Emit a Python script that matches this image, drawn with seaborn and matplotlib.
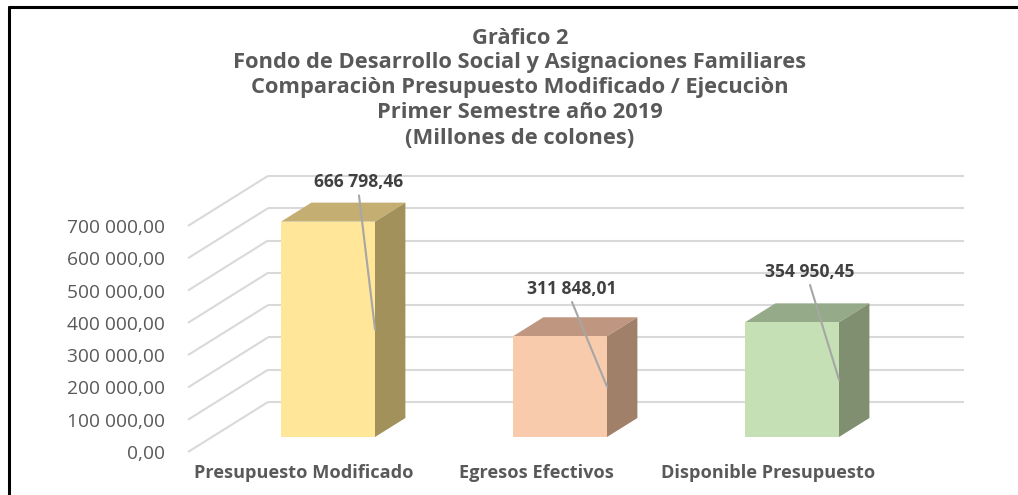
import numpy as np
import pandas as pd
import matplotlib
matplotlib.use("Agg")
import matplotlib.pyplot as plt
import seaborn as sns
from matplotlib.patches import Polygon
from matplotlib.lines import Line2D

# ---------------- data ----------------
categories = ["Presupuesto Modificado", "Egresos Efectivos", "Disponible Presupuesto"]
values = [666798.46, 311848.01, 354950.45]
value_labels = ["666 798,46", "311 848,01", "354 950,45"]
front_colors = ["#FFE699", "#F8CBAD", "#C5E0B4"]
top_colors = ["#C4AE72", "#BF9780", "#94AA88"]
side_colors = ["#A3915C", "#A1806A", "#7F8F70"]
y_ticks = [0, 100000, 200000, 300000, 400000, 500000, 600000, 700000]
y_tick_labels = ["0,00", "100 000,00", "200 000,00", "300 000,00",
                 "400 000,00", "500 000,00", "600 000,00", "700 000,00"]
title_lines = ["Gràfico 2",
               "Fondo de Desarrollo Social y Asignaciones Familiares",
               "Comparaciòn Presupuesto Modificado / Ejecuciòn",
               "Primer Semestre año 2019",
               "(Millones de colones)"]
# data-label placement (layout): horizontal shift in px from bar centre, height in value units
label_dx_px = [31, 12, 18]
label_y = [788000, 458000, 511000]

# ---------------- layout ----------------
W, H, DPI = 1018, 495, 100
sns.set_theme(style="white")
FONT = ["Open Sans", "DejaVu Sans"]
plt.rcParams["font.family"] = FONT

TXT = "#595959"
fig = plt.figure(figsize=(W / DPI, H / DPI), dpi=DPI)
fig.patch.set_facecolor("white")
renderer = fig.canvas.get_renderer()


def fit_size(text, width_px, weight="normal"):
    t = fig.text(0, 0, text, fontsize=10, fontweight=weight)
    w = t.get_window_extent(renderer).width
    t.remove()
    return 10 * width_px / w


title_fs = fit_size(title_lines[1], 575, "bold")
ytick_fs = fit_size(y_tick_labels[-1], 98)
xtick_fs = fit_size(categories[0], 219, "bold")
dlab_fs = fit_size(value_labels[0], 90, "bold")

L, R, T, B = 176, 1000, 150, 452       # axes box in pixels (front-wall plane)
cat0_px, step_px, px_per_val = 304, 232, 32.3 / 1e5
ax = fig.add_axes([L / W, 1 - B / H, (R - L) / W, (B - T) / H])
ax.patch.set_alpha(0)

df = pd.DataFrame({"cat": categories, "val": values})
sns.barplot(data=df, x="cat", y="val", hue="cat", palette=front_colors,
            width=94 / 232, saturation=1, legend=False, ax=ax, zorder=3)

ax.set_xlim((L - cat0_px) / step_px, (R - cat0_px) / step_px)
ax.set_ylim(0, (B - T) / px_per_val)
for s in ax.spines.values():
    s.set_visible(False)
ax.set_xlabel("")
ax.set_ylabel("")
ax.grid(False)

# conversion of oblique depth (pixels) into data units
p0 = ax.transData.transform((0, 0))
p1 = ax.transData.transform((1, 1e5))
sx = p1[0] - p0[0]
sy = (p1[1] - p0[1]) / 1e5


def depth(d):
    return 1.6 * d / sx, d / sy


# back wall + side wall grid
gx, gy = depth(50)
for v in y_ticks:
    ax.plot([-0.5 + gx, 2.5 + gx], [v + gy, v + gy], color="#D9D9D9", lw=1.5,
            zorder=1, clip_on=False, solid_capstyle="butt")
    ax.plot([-0.5, -0.5 + gx], [v, v + gy], color="#D9D9D9", lw=1.5,
            zorder=1, clip_on=False, solid_capstyle="butt")

# bars: move front faces to their depth, add top and side faces
fx, fy = depth(15)
bx, by = depth(19)
bars = sorted([p for p in ax.patches], key=lambda p: p.get_x())
for i, p in enumerate(bars):
    p.set_x(p.get_x() + fx)
    p.set_y(p.get_y() + fy)
    p.set_edgecolor("none")
    x0, w = p.get_x(), p.get_width()
    y0, h = p.get_y(), p.get_height()
    x1, y1 = x0 + w, y0 + h
    ax.add_patch(Polygon([(x0, y1), (x1, y1), (x1 + bx, y1 + by), (x0 + bx, y1 + by)],
                         closed=True, facecolor=top_colors[i], edgecolor="none", zorder=2.5))
    ax.add_patch(Polygon([(x1, y0), (x1 + bx, y0 + by), (x1 + bx, y1 + by), (x1, y1)],
                         closed=True, facecolor=side_colors[i], edgecolor="none", zorder=2.5))
    # data label + leader line
    lx = x0 + w / 2 + label_dx_px[i] / sx
    ly = label_y[i] + fy
    ax.text(lx, ly, value_labels[i], ha="center", va="center", fontsize=dlab_fs,
            fontweight="bold", color="#404040", zorder=6)
    ax.plot([lx, x1], [ly - 13 / sy, y0 + h / 2], color="#A6A6A6", lw=1.5, zorder=5)

# ticks
ax.set_yticks(y_ticks, y_tick_labels)
ax.set_xticks(range(len(categories)), categories)
ax.tick_params(axis="y", length=0, pad=8, labelsize=ytick_fs, labelcolor=TXT)
ax.tick_params(axis="x", length=0, pad=8.5, labelsize=xtick_fs, labelcolor=TXT)
for t in ax.get_xticklabels():
    t.set_fontweight("bold")

# title
title_y = [38, 63, 88, 113, 139]
for line, yy in zip(title_lines, title_y):
    fig.text(520 / W, 1 - yy / H, line, ha="center", va="center", fontsize=title_fs,
             fontweight="bold", color=TXT)

# chart frame (left and top edges visible)
fig.add_artist(Line2D([9 / W, 9 / W], [0, 1 - 7 / H], color="black", lw=2.2,
                      transform=fig.transFigure))
fig.add_artist(Line2D([9 / W, 1], [1 - 7 / H, 1 - 7 / H], color="black", lw=2.2,
                      transform=fig.transFigure))

fig.savefig("out.png", dpi=DPI, facecolor="white")
